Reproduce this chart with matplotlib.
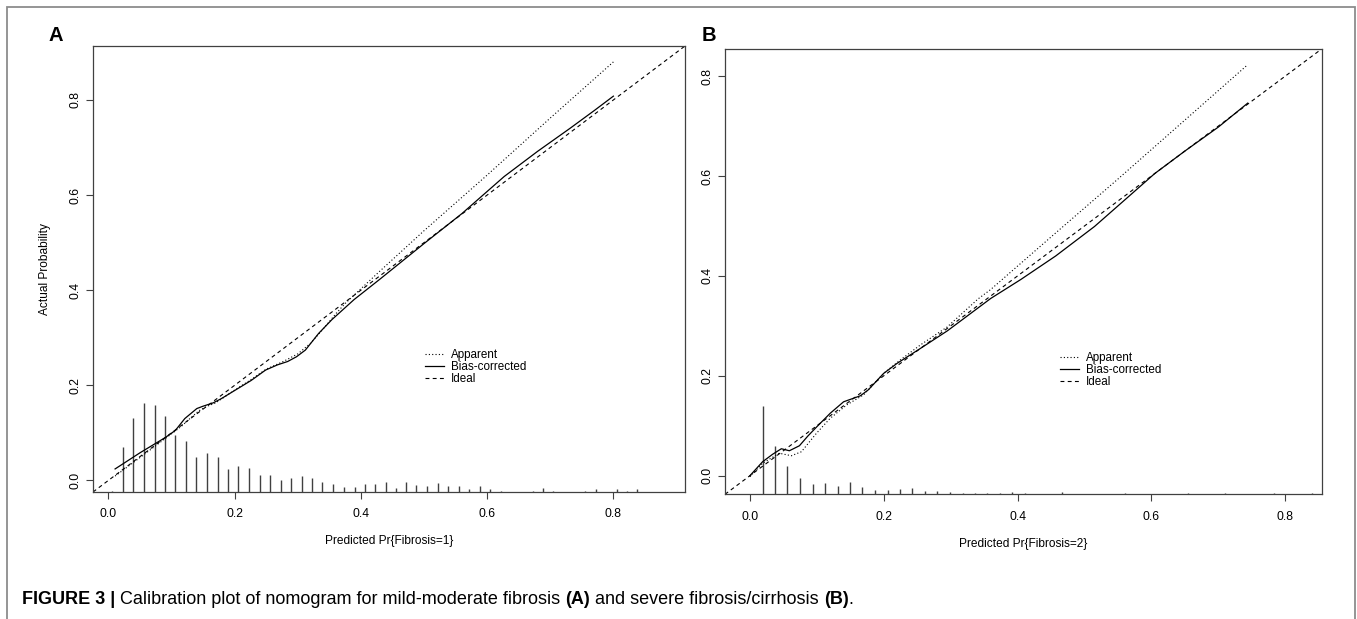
import matplotlib
matplotlib.use("Agg")
import matplotlib.pyplot as plt
from matplotlib.patches import Rectangle
from matplotlib import font_manager

# ---- data ----
# panel A: mild-moderate fibrosis
a_spike_x = [0.006, 0.023, 0.039, 0.056, 0.073, 0.090, 0.106, 0.123, 0.139, 0.156,
             0.173, 0.190, 0.206, 0.223, 0.240, 0.256, 0.273, 0.290, 0.306, 0.323,
             0.339, 0.356, 0.373, 0.390, 0.406, 0.423, 0.439, 0.456, 0.471, 0.488,
             0.505, 0.522, 0.538, 0.555, 0.572, 0.588, 0.605, 0.622, 0.672, 0.689,
             0.705, 0.755, 0.772, 0.805, 0.822, 0.838]
a_spike_h = [0.002, 0.094, 0.156, 0.187, 0.184, 0.159, 0.119, 0.107, 0.073, 0.083,
             0.073, 0.049, 0.054, 0.051, 0.036, 0.036, 0.026, 0.030, 0.033, 0.029,
             0.021, 0.017, 0.011, 0.011, 0.017, 0.017, 0.021, 0.009, 0.021, 0.015,
             0.012, 0.019, 0.012, 0.012, 0.006, 0.012, 0.006, 0.003, 0.003, 0.009,
             0.002, 0.003, 0.006, 0.006, 0.003, 0.006]
a_bias_x = [0.0105, 0.05, 0.09, 0.106, 0.121, 0.14, 0.150, 0.166, 0.179, 0.2, 0.226,
            0.249, 0.268, 0.284, 0.298, 0.312, 0.333, 0.354, 0.389, 0.43, 0.5, 0.56,
            0.627, 0.68, 0.732, 0.77, 0.80]
a_bias_y = [0.024, 0.058, 0.090, 0.105, 0.130, 0.151, 0.156, 0.163, 0.172, 0.189, 0.21,
            0.232, 0.243, 0.25, 0.26, 0.274, 0.309, 0.338, 0.38, 0.423, 0.498, 0.561,
            0.639, 0.692, 0.741, 0.778, 0.808]
a_app_x = [0.0105, 0.05, 0.1, 0.115, 0.13, 0.143, 0.155, 0.17, 0.2, 0.226, 0.25, 0.277,
           0.3, 0.32, 0.34, 0.36, 0.375, 0.43, 0.50, 0.60, 0.70, 0.80]
a_app_y = [0.009, 0.048, 0.098, 0.113, 0.131, 0.146, 0.155, 0.163, 0.190, 0.212, 0.234,
           0.250, 0.266, 0.288, 0.318, 0.350, 0.372, 0.440, 0.525, 0.642, 0.762, 0.88]

# panel B: severe fibrosis/cirrhosis
b_spike_x = [0.019, 0.037, 0.056, 0.075, 0.094, 0.112, 0.131, 0.150, 0.168, 0.187,
             0.206, 0.224, 0.243, 0.262, 0.280, 0.299, 0.318, 0.336, 0.355, 0.374,
             0.392, 0.411, 0.430, 0.448, 0.467, 0.486, 0.523, 0.560, 0.579, 0.616,
             0.654, 0.672, 0.710, 0.747, 0.784, 0.803, 0.840]
b_spike_h = [0.177, 0.096, 0.056, 0.032, 0.020, 0.022, 0.016, 0.024, 0.014, 0.008,
             0.008, 0.010, 0.012, 0.006, 0.006, 0.004, 0.003, 0.003, 0.002, 0.002,
             0.004, 0.002, 0.0015, 0.0015, 0.004, 0.0015, 0.0015, 0.003, 0.0015, 0.0015,
             0.002, 0.0015, 0.002, 0.0015, 0.002, 0.0015, 0.002]
b_bias_x = [0.0, 0.019, 0.034, 0.047, 0.059, 0.074, 0.087, 0.1, 0.12, 0.14, 0.165, 0.177,
            0.2, 0.22, 0.255, 0.295, 0.36, 0.405, 0.457, 0.515, 0.566, 0.605, 0.65,
            0.70, 0.744]
b_bias_y = [0.0, 0.028, 0.043, 0.054, 0.050, 0.060, 0.080, 0.098, 0.125, 0.148, 0.160,
            0.172, 0.205, 0.225, 0.255, 0.290, 0.355, 0.393, 0.440, 0.499, 0.559, 0.605,
            0.650, 0.698, 0.746]
b_app_x = [0.0, 0.019, 0.044, 0.062, 0.077, 0.0995, 0.12, 0.145, 0.17, 0.2, 0.225,
           0.255, 0.295, 0.341, 0.36, 0.45, 0.55, 0.65, 0.744]
b_app_y = [-0.002, 0.025, 0.045, 0.040, 0.048, 0.085, 0.115, 0.142, 0.162, 0.205, 0.232,
           0.262, 0.298, 0.354, 0.373, 0.478, 0.594, 0.712, 0.823]

ticks = [0.0, 0.2, 0.4, 0.6, 0.8]
tick_labels = ["0.0", "0.2", "0.4", "0.6", "0.8"]
legend_labels = ["Apparent", "Bias-corrected", "Ideal"]

installed = {f.name for f in font_manager.fontManager.ttflist}
narrow = "Liberation Sans Narrow" if "Liberation Sans Narrow" in installed else "Liberation Sans"
plt.rcParams['font.family'] = ['Liberation Sans', 'DejaVu Sans']

W, H = 1357, 619
fig = plt.figure(figsize=(W / 100, H / 100), dpi=100)

dotted = (0, (1, 2))
dashed = (0, (3.5, 3))


def calib_panel(rect, lim, sx, sh, bx, by, ax_, ay_, xlabel, xlab_y, ylabel, leg_xy):
    ax = fig.add_axes(rect)
    ax.set_xlim(lim)
    ax.set_ylim(lim)
    ax.vlines(sx, lim[0], [lim[0] + h for h in sh], color='0.25', lw=1.0)
    ax.axline((0, 0), slope=1, color='black', lw=0.8, ls=dashed, label=legend_labels[2])
    ax.plot(ax_, ay_, color='black', lw=0.8, ls=dotted, label=legend_labels[0])
    ax.plot(bx, by, color='black', lw=0.9, ls='-', label=legend_labels[1])
    for s in ax.spines.values():
        s.set_color('0.25')
        s.set_linewidth(0.9)
    ax.set_xticks(ticks)
    ax.set_xticklabels(tick_labels)
    ax.set_yticks(ticks)
    ax.set_yticklabels(tick_labels, rotation=90, va='center')
    ax.tick_params(direction='out', length=5, width=0.8, color='0.25', labelsize=8.7)
    ax.tick_params(axis='x', pad=6.8)
    ax.tick_params(axis='y', pad=3.4)
    ax.set_xlabel(xlabel, family=narrow, fontsize=8.6)
    ax.xaxis.set_label_coords(0.5, xlab_y)
    ax.xaxis.label.set_va('center')
    if ylabel:
        ax.set_ylabel(ylabel, family=narrow, fontsize=8.6)
        ax.yaxis.set_label_coords((45 - 93) / 592, 0.5)
        ax.yaxis.label.set_va('center')
    h, l = ax.get_legend_handles_labels()
    order = [l.index(n) for n in legend_labels]
    ax.legend([h[i] for i in order], [l[i] for i in order], loc='upper left',
              bbox_to_anchor=leg_xy, frameon=False, handlelength=1.6,
              handletextpad=0.65, labelspacing=0.0, borderpad=0, borderaxespad=0,
              prop={'family': narrow, 'size': 8.4})
    return ax


axA = calib_panel([93 / W, 1 - 492 / H, 592 / W, 446 / H], (-0.0245, 0.9135),
                  a_spike_x, a_spike_h, a_bias_x, a_bias_y, a_app_x, a_app_y,
                  "Predicted Pr{Fibrosis=1}", (492 - 541) / 446, "Actual Probability",
                  ((425 - 93) / 592, (492 - 349) / 446))
axB = calib_panel([725 / W, 1 - 494.3 / H, 597 / W, 445.6 / H], (-0.0372, 0.855),
                  b_spike_x, b_spike_h, b_bias_x, b_bias_y, b_app_x, b_app_y,
                  "Predicted Pr{Fibrosis=2}", (494.3 - 544) / 445.6, None,
                  ((1060 - 725) / 597, (494.3 - 352) / 445.6))

fig.text(55.5 / W, 1 - 35.5 / H, "A", fontsize=14.5, weight='bold', ha='center', va='center')
fig.text(708.5 / W, 1 - 35.5 / H, "B", fontsize=14.5, weight='bold', ha='center', va='center')

# outer frame
fig.add_artist(Rectangle((7 / W, -0.05), (1355 - 7) / W, 1.05 - 7 / H,
                         transform=fig.transFigure, fill=False, ec='0.55', lw=1.3))

# caption, built from pieces
parts = [("FIGURE 3 | ", 'bold'),
         ("Calibration plot of nomogram for mild-moderate fibrosis ", 'normal'),
         ("(A)", 'bold'),
         (" and severe fibrosis/cirrhosis ", 'normal'),
         ("(B)", 'bold'),
         (".", 'normal')]
fig.canvas.draw()
renderer = fig.canvas.get_renderer()
x = 22
for txt, wt in parts:
    t = fig.text(x / W, 1 - 600 / H, txt, family=narrow, weight=wt, fontsize=13,
                 va='center', ha='left')
    bb = t.get_window_extent(renderer)
    x += bb.width

fig.savefig("out.png", dpi=100)
